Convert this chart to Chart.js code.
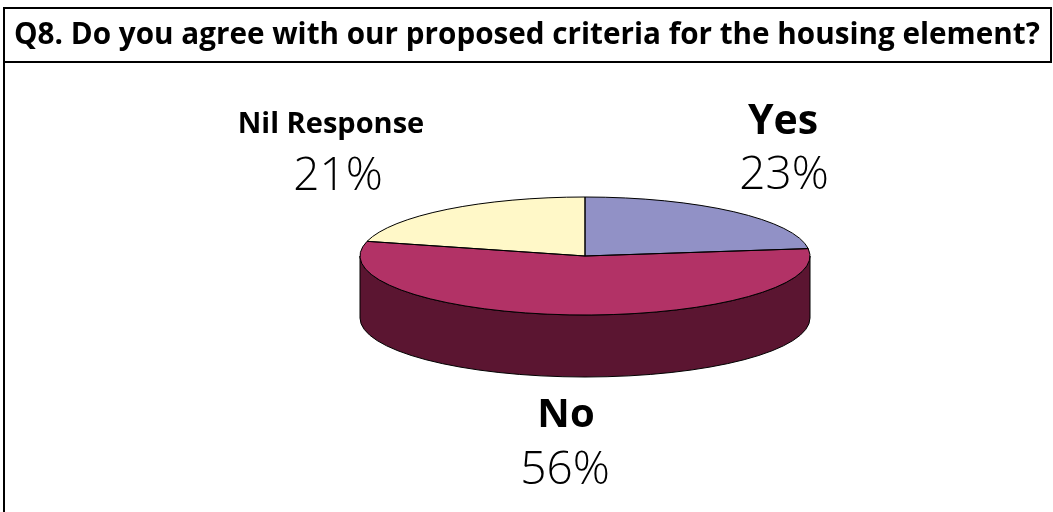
<!DOCTYPE html>
<html>
<head>
<meta charset="utf-8">
<script src="https://cdn.jsdelivr.net/npm/chart.js@4.4.1/dist/chart.umd.min.js"></script>
<style>
  html, body { margin: 0; padding: 0; background: #fff; overflow: hidden; }
  #wrap { width: 1053px; height: 512px; position: relative; }
</style>
</head>
<body>
<div id="wrap"><canvas id="c" width="1053" height="512"></canvas></div>
<script>
// Survey answers for Q8
const categories = ['Yes', 'No', 'Nil Response'];
const values = [23, 56, 21];
const topColors = ['#9191c6', '#b23266', '#fff8c8'];
const sideColors = ['#5e5e87', '#5b1531', '#a9a37c'];
const titleText = 'Q8. Do you agree with our proposed criteria for the housing element?';

// Where each category's label sits (centre x, baselines)
const labelLayout = [
  { x: 783, nameY: 134, pctY: 189, nameSize: 41, pctX: 784 },
  { x: 566, nameY: 427, pctY: 484, nameSize: 40, pctX: 565 },
  { x: 331, nameY: 133, pctY: 190, nameSize: 29, pctX: 338 }
];

const FONT = "'Open Sans', 'Noto Sans', 'DejaVu Sans', sans-serif";

// Frame and title box
const framePlugin = {
  id: 'frame',
  beforeDraw(chart) {
    const ctx = chart.ctx;
    ctx.save();
    ctx.fillStyle = '#fff';
    ctx.fillRect(0, 0, chart.width, chart.height);
    ctx.strokeStyle = '#000';
    ctx.lineWidth = 2;
    ctx.beginPath();
    ctx.moveTo(4, chart.height);
    ctx.lineTo(4, 8);
    ctx.lineTo(1051, 8);
    ctx.lineTo(1051, 62);
    ctx.lineTo(4, 62);
    ctx.stroke();
    ctx.fillStyle = '#000';
    ctx.textBaseline = 'alphabetic';
    ctx.textAlign = 'left';
    // size the title so it spans the box
    const target = 1026;
    ctx.font = 'bold 26px ' + FONT;
    const w = ctx.measureText(titleText).width;
    const size = Math.min(30, 26 * target / w);
    ctx.font = 'bold ' + size.toFixed(2) + 'px ' + FONT;
    ctx.fillText(titleText, 14, 44);
    ctx.restore();
  }
};

// Tilted pie: draws the side wall, flattens the library's slices, then outlines
const pie3dPlugin = {
  id: 'pie3d',
  beforeDatasetsDraw(chart, args, opts) {
    const meta = chart.getDatasetMeta(0);
    const first = meta.data[0];
    const x = first.x, y = first.y, r = first.outerRadius;
    const cx = x, cy = opts.centerY, rx = r, ry = r * opts.tilt, d = opts.depth;
    const ctx = chart.ctx;
    ctx.save();
    ctx.lineWidth = 1;
    ctx.strokeStyle = '#000';
    ctx.lineJoin = 'round';
    meta.data.forEach((el, i) => {
      const a1 = Math.max(el.startAngle, 0);
      const a2 = Math.min(el.endAngle, Math.PI);
      if (a2 <= a1) return;
      ctx.beginPath();
      ctx.ellipse(cx, cy, rx, ry, 0, a1, a2, false);
      ctx.ellipse(cx, cy + d, rx, ry, 0, a2, a1, true);
      ctx.closePath();
      ctx.fillStyle = sideColors[i];
      ctx.fill();
      ctx.stroke();
    });
    ctx.restore();
    ctx.save();
    ctx.translate(cx, cy);
    ctx.scale(1, opts.tilt);
    ctx.translate(-x, -y);
  },
  afterDatasetsDraw(chart, args, opts) {
    const ctx = chart.ctx;
    ctx.restore();
    const meta = chart.getDatasetMeta(0);
    const first = meta.data[0];
    const cx = first.x, cy = opts.centerY, rx = first.outerRadius, ry = rx * opts.tilt;
    ctx.save();
    ctx.lineWidth = 1;
    ctx.strokeStyle = '#000';
    ctx.lineJoin = 'round';
    meta.data.forEach((el) => {
      ctx.beginPath();
      ctx.moveTo(cx, cy);
      ctx.ellipse(cx, cy, rx, ry, 0, el.startAngle, el.endAngle, false);
      ctx.closePath();
      ctx.stroke();
    });
    ctx.restore();
  }
};

// Category names and percentages
const labelPlugin = {
  id: 'sliceLabels',
  afterDraw(chart) {
    const ctx = chart.ctx;
    ctx.save();
    ctx.fillStyle = '#000';
    ctx.textAlign = 'center';
    ctx.textBaseline = 'alphabetic';
    const total = values.reduce((a, b) => a + b, 0);
    categories.forEach((name, i) => {
      const L = labelLayout[i];
      ctx.font = 'bold ' + L.nameSize + 'px ' + FONT;
      ctx.fillText(name, L.x, L.nameY);
      ctx.font = '300 46px ' + FONT;
      ctx.fillText(Math.round(values[i] / total * 100) + '%', L.pctX, L.pctY);
    });
    ctx.restore();
  }
};

new Chart(document.getElementById('c'), {
  type: 'pie',
  data: {
    labels: categories,
    datasets: [{
      data: values,
      backgroundColor: topColors,
      borderWidth: 0,
      clip: false
    }]
  },
  options: {
    responsive: false,
    animation: false,
    events: [],
    rotation: 0,
    layout: { padding: { left: 360, right: 243, top: 0, bottom: 0 } },
    plugins: {
      legend: { display: false },
      title: { display: false },
      tooltip: { enabled: false },
      pie3d: { centerY: 256, tilt: 59 / 225, depth: 62 }
    }
  },
  plugins: [framePlugin, pie3dPlugin, labelPlugin]
});
</script>
</body>
</html>
